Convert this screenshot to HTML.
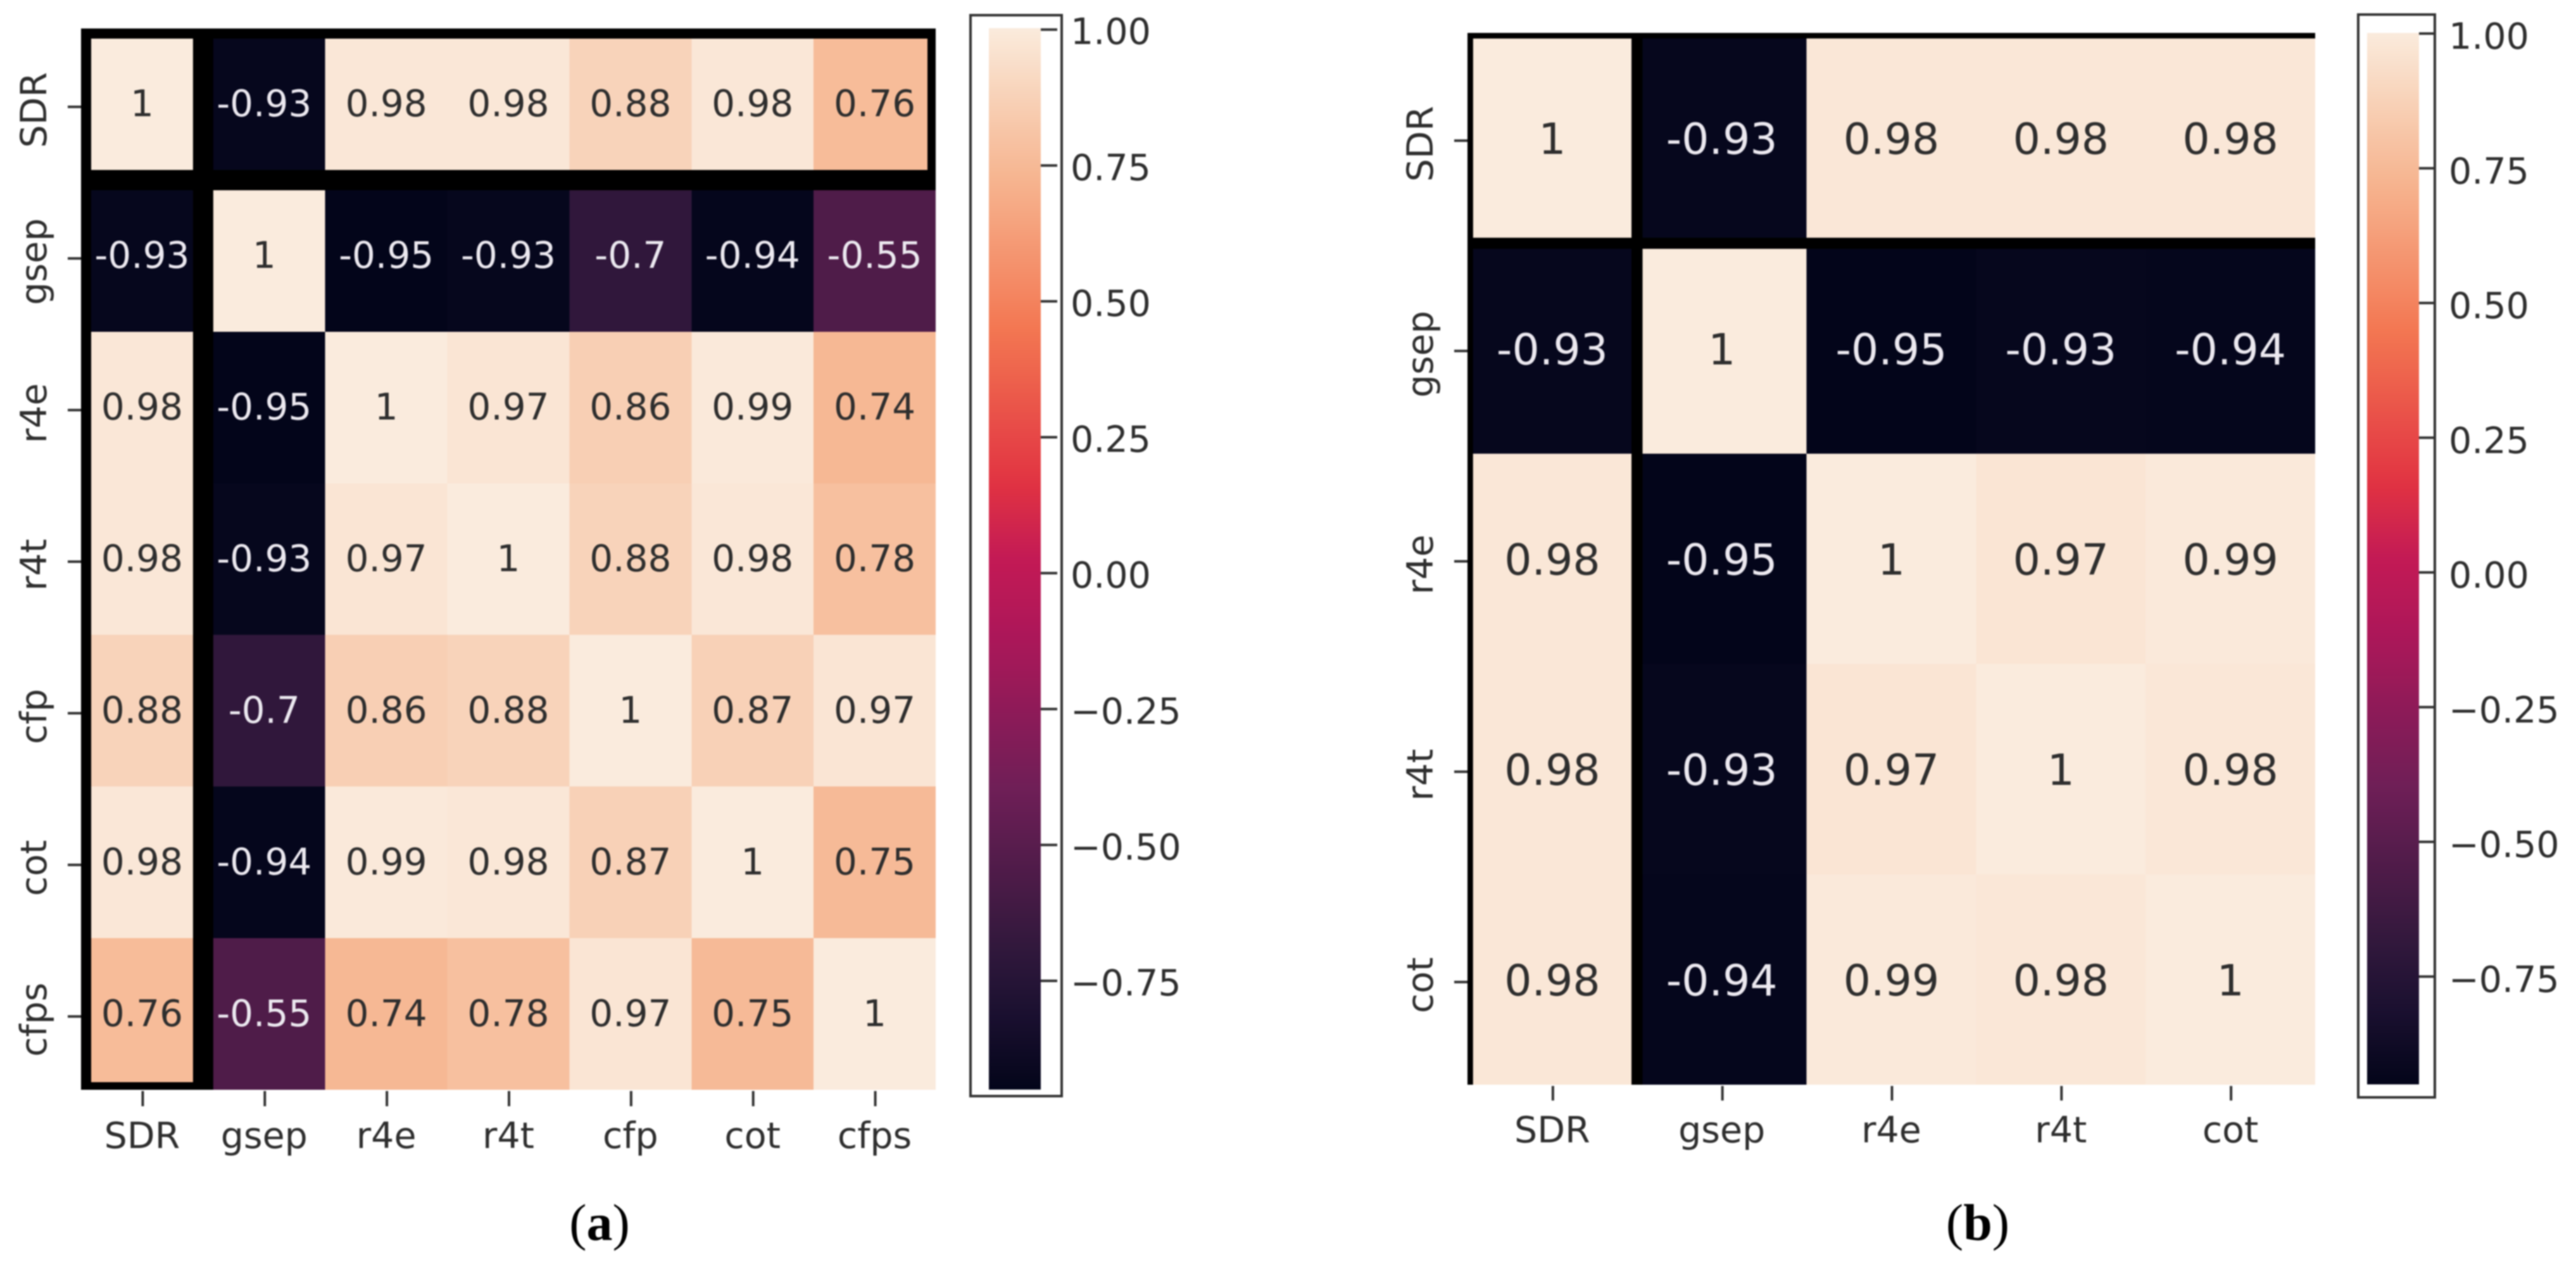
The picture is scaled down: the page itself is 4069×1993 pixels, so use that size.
<!DOCTYPE html>
<html lang="en">
<head>
<meta charset="utf-8">
<title>Correlation heatmaps</title>
<style>
html,body{margin:0;padding:0;background:#fff;}
body{width:4069px;height:1993px;overflow:hidden;}
svg{display:block;filter:blur(1px);}
text{font-family:"DejaVu Sans","Liberation Sans",sans-serif;}
.caption{font-family:"Liberation Serif",serif;font-size:82px;fill:#000;}
</style>
</head>
<body>
<svg id="figure" xmlns="http://www.w3.org/2000/svg" width="4069" height="1993" viewBox="0 0 4069 1993">
<rect x="0" y="0" width="4069" height="1993" fill="#ffffff"/>
<defs id="defs"></defs>
<text class="caption" x="947" y="1958" text-anchor="middle">(<tspan font-weight="bold">a</tspan>)</text>
<text class="caption" x="3124" y="1958" text-anchor="middle">(<tspan font-weight="bold">b</tspan>)</text>
</svg>
<script>
// ---- chart data ----
const categoriesA = ['SDR', 'gsep', 'r4e', 'r4t', 'cfp', 'cot', 'cfps'];
const valuesA = [
  [1, -0.93, 0.98, 0.98, 0.88, 0.98, 0.76],
  [-0.93, 1, -0.95, -0.93, -0.7, -0.94, -0.55],
  [0.98, -0.95, 1, 0.97, 0.86, 0.99, 0.74],
  [0.98, -0.93, 0.97, 1, 0.88, 0.98, 0.78],
  [0.88, -0.7, 0.86, 0.88, 1, 0.87, 0.97],
  [0.98, -0.94, 0.99, 0.98, 0.87, 1, 0.75],
  [0.76, -0.55, 0.74, 0.78, 0.97, 0.75, 1]
];
const categoriesB = ['SDR', 'gsep', 'r4e', 'r4t', 'cot'];
const valuesB = [
  [1, -0.93, 0.98, 0.98, 0.98],
  [-0.93, 1, -0.95, -0.93, -0.94],
  [0.98, -0.95, 1, 0.97, 0.99],
  [0.98, -0.93, 0.97, 1, 0.98],
  [0.98, -0.94, 0.99, 0.98, 1]
];
const colorbarTicks = [1, 0.75, 0.5, 0.25, 0, -0.25, -0.5, -0.75];
const colorbarTickLabels = ['1.00', '0.75', '0.50', '0.25', '0.00', '\u22120.25', '\u22120.50', '\u22120.75'];
const colorDomain = [-0.95, 1];
// rocket colormap anchors
const rocketPositions = [0, 0.0714, 0.143, 0.286, 0.429, 0.5, 0.571, 0.714, 0.857, 0.93, 1];
const rocketColors = ['#03051a', '#1b1030', '#35193e', '#701f57', '#ad1759', '#c31a55', '#e13342', '#f37651', '#f6b48f', '#f8d0b5', '#faebdd'];

// ---- layout ----
const layoutA = {
  id: 'a', left: 128, right: 1478, top: 45, bottom: 1721,
  highlightStroke: 32, highlightInsetRight: 3, highlightInsetBottom: 4,
  annotationSize: 58, annotationDy: 19, tickDy: 4, labelDy: 9,
  yLabelX: 73, xLabelY: 1813, xTickEnd: 1747,
  bar: { x0: 1562, x1: 1644, top: 44.5, bottom: 1720.7, y1: 46.7, yMin: 1720.7 },
  frame: { x0: 1533, x1: 1677, y0: 24, y1: 1731 },
  tickEnd: 1670, labelX: 1691, labelDy2: 23
};
const layoutB = {
  id: 'b', left: 2318, right: 3657, top: 52, bottom: 1713,
  highlightStroke: 17.5, highlightInsetRight: 20, highlightInsetBottom: 20,
  annotationSize: 68, annotationDy: 25, tickDy: 4, labelDy: 9,
  yLabelX: 2263, xLabelY: 1804, xTickEnd: 1738,
  bar: { x0: 3739, x1: 3821, top: 52, bottom: 1712.5, y1: 53, yMin: 1712.5 },
  frame: { x0: 3725, x1: 3846, y0: 23, y1: 1733 },
  tickEnd: 3846, labelX: 3868, labelDy2: 24
};

const NS = 'http://www.w3.org/2000/svg';
const svg = document.getElementById('figure');
const defs = document.getElementById('defs');

function make(tag, parent) {
  const el = document.createElementNS(NS, tag);
  parent.appendChild(el);
  return el;
}
function hexToRgb(h) {
  return [parseInt(h.slice(1, 3), 16), parseInt(h.slice(3, 5), 16), parseInt(h.slice(5, 7), 16)];
}
function rocketRgb(t) {
  t = Math.max(0, Math.min(1, t));
  let k = 0;
  while (k < rocketPositions.length - 2 && t > rocketPositions[k + 1]) k++;
  const f = (t - rocketPositions[k]) / (rocketPositions[k + 1] - rocketPositions[k]);
  const a = hexToRgb(rocketColors[k]);
  const b = hexToRgb(rocketColors[k + 1]);
  return [0, 1, 2].map(i => Math.round(a[i] + (b[i] - a[i]) * f));
}
function colorScale(v) {
  const c = rocketRgb((v - colorDomain[0]) / (colorDomain[1] - colorDomain[0]));
  return 'rgb(' + c[0] + ',' + c[1] + ',' + c[2] + ')';
}
function annotationColor(v) {
  const c = rocketRgb((v - colorDomain[0]) / (colorDomain[1] - colorDomain[0]));
  const lum = (0.2126 * c[0] + 0.7152 * c[1] + 0.0722 * c[2]) / 255;
  return lum < 0.408 ? '#ece9f0' : '#2e2e2e';
}

function drawHeatmap(layout, categories, values) {
  const n = categories.length;
  const cw = (layout.right - layout.left) / n;
  const ch = (layout.bottom - layout.top) / n;
  const xScale = i => layout.left + i * cw;
  const yScale = i => layout.top + i * ch;

  const g = make('g', svg);
  
  

  // cells
  values.forEach((row, r) => {
    row.forEach((v, c) => {
      const cell = make('rect', g);
      
      
      cell.setAttribute('x', xScale(c));
      cell.setAttribute('y', yScale(r));
      cell.setAttribute('width', cw);
      cell.setAttribute('height', ch);
      cell.setAttribute('fill', colorScale(v));
      cell.setAttribute('shape-rendering', 'crispEdges');
    });
  });

  // highlight outlines around first row and first column
  const clip = make('clipPath', defs);
  clip.setAttribute('id', 'clip-' + layout.id);
  const clipRect = make('rect', clip);
  clipRect.setAttribute('x', layout.left);
  clipRect.setAttribute('y', layout.top);
  clipRect.setAttribute('width', layout.right - layout.left);
  clipRect.setAttribute('height', layout.bottom - layout.top);

  const rowBox = make('rect', g);
  
  
  rowBox.setAttribute('x', layout.left);
  rowBox.setAttribute('y', layout.top);
  rowBox.setAttribute('width', layout.right - layout.left + layout.highlightInsetRight);
  rowBox.setAttribute('height', ch);
  rowBox.setAttribute('fill', 'none');
  rowBox.setAttribute('stroke', '#000');
  rowBox.setAttribute('stroke-width', layout.highlightStroke);
  rowBox.setAttribute('clip-path', 'url(#clip-' + layout.id + ')');

  const colBox = make('rect', g);
  
  
  colBox.setAttribute('x', layout.left);
  colBox.setAttribute('y', layout.top);
  colBox.setAttribute('width', cw);
  colBox.setAttribute('height', layout.bottom - layout.top + layout.highlightInsetBottom);
  colBox.setAttribute('fill', 'none');
  colBox.setAttribute('stroke', '#000');
  colBox.setAttribute('stroke-width', layout.highlightStroke);
  colBox.setAttribute('clip-path', 'url(#clip-' + layout.id + ')');

  // annotations
  values.forEach((row, r) => {
    row.forEach((v, c) => {
      const t = make('text', g);
      
      
      t.setAttribute('x', xScale(c) + cw / 2);
      t.setAttribute('y', yScale(r) + ch / 2 + layout.annotationDy);
      t.setAttribute('text-anchor', 'middle');
      t.setAttribute('font-size', layout.annotationSize);
      t.setAttribute('fill', annotationColor(v));
      t.textContent = String(v);
    });
  });

  // axis ticks and labels
  categories.forEach((name, i) => {
    const cy = yScale(i) + ch / 2;
    const cx = xScale(i) + cw / 2;

    const yTick = make('line', g);
    
    
    yTick.setAttribute('x1', layout.left - 21);
    yTick.setAttribute('x2', layout.left);
    yTick.setAttribute('y1', cy + layout.tickDy);
    yTick.setAttribute('y2', cy + layout.tickDy);
    yTick.setAttribute('stroke', '#333');
    yTick.setAttribute('stroke-width', 4);

    const yLabel = make('text', g);
    
    
    yLabel.setAttribute('text-anchor', 'middle');
    yLabel.setAttribute('font-size', 57);
    yLabel.setAttribute('fill', '#2e2e2e');
    yLabel.setAttribute('transform', 'translate(' + layout.yLabelX + ',' + (cy + layout.labelDy) + ') rotate(-90)');
    yLabel.textContent = name;

    const xTick = make('line', g);
    
    
    xTick.setAttribute('x1', cx + 1);
    xTick.setAttribute('x2', cx + 1);
    xTick.setAttribute('y1', layout.bottom + 2);
    xTick.setAttribute('y2', layout.xTickEnd);
    xTick.setAttribute('stroke', '#333');
    xTick.setAttribute('stroke-width', 4);

    const xLabel = make('text', g);
    
    
    xLabel.setAttribute('x', cx);
    xLabel.setAttribute('y', layout.xLabelY);
    xLabel.setAttribute('text-anchor', 'middle');
    xLabel.setAttribute('font-size', 57);
    xLabel.setAttribute('fill', '#2e2e2e');
    xLabel.textContent = name;
  });

  drawColorbar(layout);
}

function drawColorbar(layout) {
  const bar = layout.bar;
  const valueToY = v => bar.y1 + (colorDomain[1] - v) / (colorDomain[1] - colorDomain[0]) * (bar.yMin - bar.y1);

  const g = make('g', svg);
  
  

  const grad = make('linearGradient', defs);
  grad.setAttribute('id', 'grad-' + layout.id);
  grad.setAttribute('x1', '0');
  grad.setAttribute('x2', '0');
  grad.setAttribute('y1', '0');
  grad.setAttribute('y2', '1');
  for (let k = 0; k <= 60; k++) {
    const stop = make('stop', grad);
    stop.setAttribute('offset', k / 60);
    stop.setAttribute('stop-color', colorScale(colorDomain[1] - (k / 60) * (colorDomain[1] - colorDomain[0])));
  }

  const frame = make('rect', g);
  
  
  frame.setAttribute('x', layout.frame.x0);
  frame.setAttribute('y', layout.frame.y0);
  frame.setAttribute('width', layout.frame.x1 - layout.frame.x0);
  frame.setAttribute('height', layout.frame.y1 - layout.frame.y0);
  frame.setAttribute('fill', 'none');
  frame.setAttribute('stroke', '#333');
  frame.setAttribute('stroke-width', 4);

  const ramp = make('rect', g);
  
  
  ramp.setAttribute('x', bar.x0);
  ramp.setAttribute('y', bar.top);
  ramp.setAttribute('width', bar.x1 - bar.x0);
  ramp.setAttribute('height', bar.bottom - bar.top);
  ramp.setAttribute('fill', 'url(#grad-' + layout.id + ')');

  colorbarTicks.forEach((v, i) => {
    const y = valueToY(v);
    const tick = make('line', g);
    
    
    tick.setAttribute('x1', bar.x1);
    tick.setAttribute('x2', layout.tickEnd);
    tick.setAttribute('y1', y);
    tick.setAttribute('y2', y);
    tick.setAttribute('stroke', '#333');
    tick.setAttribute('stroke-width', 4);

    const label = make('text', g);
    
    
    label.setAttribute('x', layout.labelX);
    label.setAttribute('y', y + layout.labelDy2);
    label.setAttribute('font-size', 57);
    label.setAttribute('fill', '#2e2e2e');
    label.textContent = colorbarTickLabels[i];
  });
}

drawHeatmap(layoutA, categoriesA, valuesA);
drawHeatmap(layoutB, categoriesB, valuesB);
</script>
</body>
</html>
